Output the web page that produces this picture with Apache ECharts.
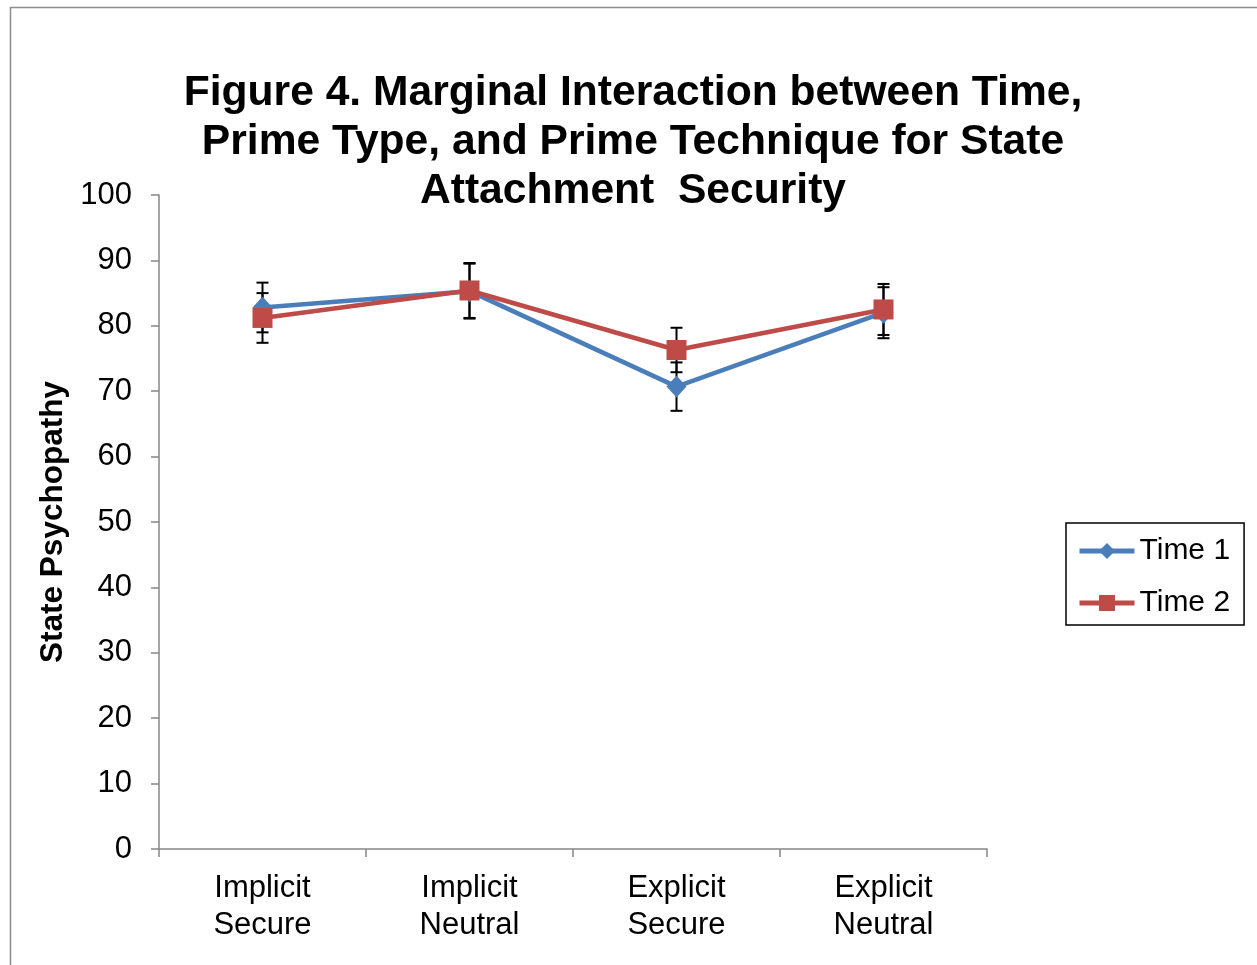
<!DOCTYPE html>
<html>
<head>
<meta charset="utf-8">
<script src="https://cdn.jsdelivr.net/npm/echarts@6/dist/echarts.min.js"></script>
<style>
html,body{margin:0;padding:0;background:#fff;}
#chart{width:1257px;height:965px;}
</style>
</head>
<body>
<div id="chart"></div>
<script>
const categories = ['Implicit\nSecure', 'Implicit\nNeutral', 'Explicit\nSecure', 'Explicit\nNeutral'];
const seriesNames = ['Time 1', 'Time 2'];
const time1 = [82.8, 85.3, 70.7, 82.0];
const time2 = [81.2, 85.4, 76.3, 82.5];
const time1Err = [3.8, 4.2, 3.7, 3.9];
const time2Err = [3.8, 4.2, 3.4, 3.9];
const yTicks = [0, 10, 20, 30, 40, 50, 60, 70, 80, 90, 100];

const FONT = '"Liberation Sans", Arial, sans-serif';
const chart = echarts.init(document.getElementById('chart'));

function errData(vals, errs) {
  return vals.map((v, i) => [i, v - errs[i], v + errs[i]]);
}
function errRender(params, api) {
  const lo = api.coord([api.value(0), api.value(1)]);
  const hi = api.coord([api.value(0), api.value(2)]);
  const w = 6;
  const st = { stroke: '#000', lineWidth: 2 };
  return {
    type: 'group',
    children: [
      { type: 'line', shape: { x1: lo[0], y1: lo[1], x2: hi[0], y2: hi[1] }, style: st },
      { type: 'line', shape: { x1: lo[0] - w, y1: lo[1], x2: lo[0] + w, y2: lo[1] }, style: st },
      { type: 'line', shape: { x1: hi[0] - w, y1: hi[1], x2: hi[0] + w, y2: hi[1] }, style: st }
    ]
  };
}

const option = {
  animation: false,
  backgroundColor: '#fff',
  textStyle: { fontFamily: FONT },
  graphic: [{
    type: 'rect', z: -1,
    shape: { x: 10.5, y: 7.5, width: 1300, height: 1000 },
    style: { fill: 'none', stroke: '#8c8c8c', lineWidth: 1.5 }
  }],
  title: {
    text: 'Figure 4. Marginal Interaction between Time,\nPrime Type, and Prime Technique for State\nAttachment  Security',
    left: 628, top: 64, textAlign: 'center',
    textStyle: { fontFamily: FONT, fontWeight: 'bold', fontSize: 42.6, lineHeight: 49, color: '#000' }
  },
  legend: {
    orient: 'vertical',
    left: 1066, top: 523,
    padding: [13, 14, 7, 11],
    itemGap: 22,
    itemWidth: 55, itemHeight: 20,
    borderColor: '#000', borderWidth: 1.5,
    lineStyle: { width: 5 },
    textStyle: { fontFamily: FONT, fontSize: 30, color: '#000', lineHeight: 30 },
    data: seriesNames
  },
  grid: { left: 159, right: 270, top: 195, bottom: 116 },
  xAxis: {
    type: 'category',
    data: categories,
    boundaryGap: true,
    axisLine: { lineStyle: { color: '#868686', width: 1.5 } },
    axisTick: { show: true, length: 8, lineStyle: { color: '#868686', width: 1.5 } },
    axisLabel: { fontFamily: FONT, fontSize: 31, lineHeight: 37, color: '#000', margin: 21 }
  },
  yAxis: {
    type: 'value',
    min: yTicks[0], max: yTicks[yTicks.length - 1], interval: 10,
    name: 'State Psychopathy',
    nameLocation: 'middle',
    nameGap: 88,
    nameTextStyle: { fontFamily: FONT, fontWeight: 'bold', fontSize: 31.5, color: '#000' },
    axisLine: { show: true, lineStyle: { color: '#868686', width: 1.5 } },
    axisTick: { show: true, length: 8, lineStyle: { color: '#868686', width: 1.5 } },
    splitLine: { show: false },
    axisLabel: { fontFamily: FONT, fontSize: 31, color: '#000', margin: 27 }
  },
  series: [
    {
      name: seriesNames[0], type: 'line', data: time1, z: 3,
      symbol: 'diamond', symbolSize: [20, 22],
      itemStyle: { color: '#4A7EBB' },
      lineStyle: { color: '#4A7EBB', width: 4.5 }
    },
    {
      name: seriesNames[0] + ' err', type: 'custom', z: 2,
      renderItem: errRender, data: errData(time1, time1Err), silent: true
    },
    {
      name: seriesNames[1], type: 'line', data: time2, z: 4,
      symbol: 'rect', symbolSize: 20,
      itemStyle: { color: '#BE4B48' },
      lineStyle: { color: '#BE4B48', width: 4.5 }
    },
    {
      name: seriesNames[1] + ' err', type: 'custom', z: 2,
      renderItem: errRender, data: errData(time2, time2Err), silent: true
    }
  ]
};
chart.setOption(option);
</script>
</body>
</html>
